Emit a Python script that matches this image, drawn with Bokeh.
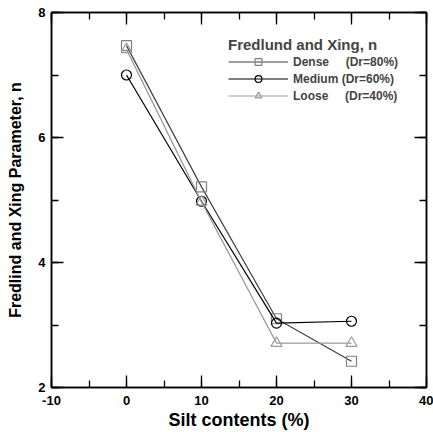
from bokeh.plotting import figure
from bokeh.models import (LinearAxis, SingleIntervalTicker, Range1d, Legend, LegendItem)
from bokeh.embed import file_html
from bokeh.resources import INLINE

silt = [0, 10, 20, 30]
dense = [7.47, 5.21, 3.1, 2.42]
medium = [7.0, 4.98, 3.03, 3.06]
loose = [7.41, 4.97, 2.71, 2.71]

series_labels = ["Dense\u00a0\u00a0\u00a0\u00a0\u00a0(Dr=80%)", "Medium (Dr=60%)", "Loose\u00a0\u00a0\u00a0\u00a0\u00a0(Dr=40%)"]
legend_title = "Fredlund and Xing, n"
x_label = "Silt contents (%)"
y_label = "Fredlind and Xing Parameter, n"

FONT = "Liberation Sans"

p = figure(width=433, height=432, output_backend="svg", toolbar_location=None,
           x_range=Range1d(-10, 40), y_range=Range1d(2, 8),
           min_border_left=51, min_border_right=7, min_border_top=12, min_border_bottom=45,
           x_axis_type=None, y_axis_type=None)
p.grid.visible = False
p.outline_line_color = "black"
p.outline_line_width = 1.5
p.background_fill_color = "white"
p.border_fill_color = "white"

def make_axis(interval, show_labels, label=None):
    ax = LinearAxis(ticker=SingleIntervalTicker(interval=interval, num_minor_ticks=2))
    ax.axis_line_color = "black"
    ax.axis_line_width = 1.5
    ax.major_tick_in = 12
    ax.major_tick_out = 0
    ax.minor_tick_in = 7
    ax.minor_tick_out = 0
    ax.major_tick_line_width = 1.3
    ax.minor_tick_line_width = 1.3
    ax.major_tick_line_color = "black"
    ax.minor_tick_line_color = "black"
    if show_labels:
        ax.major_label_text_font = FONT
        ax.major_label_text_font_style = "bold"
        ax.major_label_text_font_size = "13px"
        ax.major_label_text_color = "black"
    else:
        ax.major_label_text_font_size = "0px"
        ax.major_label_standoff = 0
    if label:
        ax.axis_label = label
        ax.axis_label_text_font = FONT
        ax.axis_label_text_font_style = "bold"
        ax.axis_label_text_color = "black"
    return ax

xb = make_axis(10, True, x_label)
xb.major_label_overrides = {-10: "-10"}
xb.axis_label_text_font_size = "18px"
xb.major_label_standoff = 8
xb.axis_label_standoff = 2
p.add_layout(xb, "below")
xt = make_axis(10, False)
p.add_layout(xt, "above")
yl = make_axis(2, True, y_label)
yl.axis_label_text_font_size = "16px"
yl.major_label_standoff = 6
yl.axis_label_standoff = 11
p.add_layout(yl, "left")
yr = make_axis(2, False)
p.add_layout(yr, "right")

dl = p.line(silt, dense, line_color="#404040", line_width=1.2)
dm = p.scatter(silt, dense, marker="square", size=10, line_color="#808080", fill_color=None, line_width=1.2)
ml = p.line(silt, medium, line_color="black", line_width=1.2)
mm = p.scatter(silt, medium, marker="circle", size=10, line_color="black", fill_color=None, line_width=1.2)
ll = p.line(silt, loose, line_color="#999999", line_width=1.2)
lm = p.scatter(silt, loose, marker="triangle", size=11, line_color="#999999", fill_color=None, line_width=1.2)

legend = Legend(items=[LegendItem(label=series_labels[0], renderers=[dl, dm]),
                       LegendItem(label=series_labels[1], renderers=[ml, mm]),
                       LegendItem(label=series_labels[2], renderers=[ll, lm])],
                location=(177, 283), title=legend_title,
                title_text_font=FONT, title_text_font_style="bold", title_text_font_size="15px",
                title_standoff=0,
                label_text_font=FONT, label_text_font_style="bold", label_text_font_size="12px",
                glyph_width=60, glyph_height=17, label_height=17, label_standoff=5,
                spacing=0, padding=0, margin=0,
                border_line_color=None, background_fill_alpha=0)
p.add_layout(legend)

open("out.html", "w").write(file_html(p, INLINE))
